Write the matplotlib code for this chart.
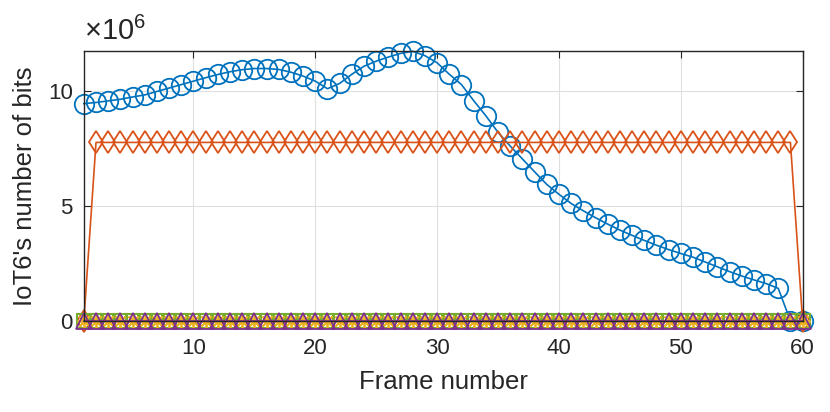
import numpy as np
import matplotlib.pyplot as plt

plt.rcParams['font.family'] = ['Liberation Sans', 'DejaVu Sans']
plt.rcParams['mathtext.fontset'] = 'custom'
plt.rcParams['mathtext.rm'] = 'Liberation Sans'
plt.rcParams['mathtext.it'] = 'Liberation Sans'

# frame indices
frames = np.arange(1, 61)

# IoT6 bits per frame, in units of 1e6
scheme_a = [9.47, 9.52, 9.59, 9.66, 9.76, 9.85, 10.0, 10.15, 10.3, 10.45,
            10.6, 10.74, 10.86, 10.95, 11.0, 11.0, 10.96, 10.84, 10.67, 10.45,
            10.12, 10.35, 10.75, 11.1, 11.32, 11.5, 11.66, 11.75, 11.56, 11.25,
            10.75, 10.3, 9.6, 8.94, 8.22, 7.62, 7.06, 6.5, 5.95, 5.52,
            5.12, 4.8, 4.5, 4.22, 3.96, 3.73, 3.51, 3.3, 3.11, 2.94,
            2.78, 2.57, 2.36, 2.15, 1.96, 1.79, 1.63, 1.42, 0.0, 0.0]
scheme_b = [0.0] + [7.78] * 58 + [0.0]
scheme_c = [0.0] * 60
scheme_d = [0.0] * 60
scheme_e = [0.0] * 60

# MATLAB default colour order
c_blue = (0.0, 0.447, 0.741)
c_orange = (0.85, 0.325, 0.098)
c_yellow = (0.929, 0.694, 0.125)
c_purple = (0.494, 0.184, 0.556)
c_green = (0.466, 0.674, 0.188)

fig = plt.figure(figsize=(8.3, 4.12), dpi=100)
ax = fig.add_axes([0.101, 0.221, 0.866, 0.655])

kw = dict(lw=1.2, mfc='none', mew=1.3, clip_on=False)
ax.plot(frames, scheme_a, marker='o', ms=14, color=c_blue, **kw)
ax.plot(frames, scheme_b, marker='d', ms=11.5, color=c_orange, **kw)
ax.plot(frames, scheme_e, marker='s', ms=10, color=c_green,
        **{**kw, 'mew': 1.5})
ax.plot(frames, scheme_c, marker=(8, 2, 0), ms=10, color=c_yellow, **kw)
ax.plot(frames, scheme_d, marker='^', ms=11, color=c_purple, **kw)

ax.set_xlim(1, 60)
ax.set_ylim(0, 11.76)
ax.set_xticks([10, 20, 30, 40, 50, 60])
ax.set_yticks([0, 5, 10])
ax.grid(True, color='#dfdfdf', lw=0.8)
ax.set_axisbelow(True)

for s in ax.spines.values():
    s.set_color('#262626')
    s.set_linewidth(1.0)
ax.tick_params(direction='in', top=True, right=True, length=5,
               labelsize=16, colors='#262626')
ax.tick_params(axis='x', pad=12)
ax.tick_params(axis='y', pad=8)

ax.set_xlabel('Frame number', fontsize=18.5, color='#262626', labelpad=8)
ax.set_ylabel("IoT6's number of bits", fontsize=18.5, color='#262626', labelpad=8)
ax.text(0.0, 1.02, r'$\times 10^{6}$', transform=ax.transAxes,
        fontsize=21, color='#262626', ha='left', va='bottom')

fig.savefig('out.png', dpi=100)
